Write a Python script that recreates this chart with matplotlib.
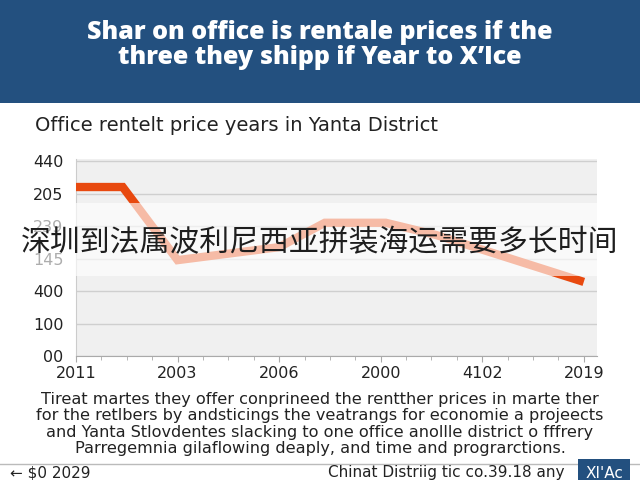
import matplotlib.pyplot as plt
from matplotlib.patches import Rectangle
from matplotlib.ticker import MultipleLocator

# data (x in tick slots, y in tick slots)
years = ["2011", "2003", "2006", "2000", "4102", "2019"]
y_labels = ["00", "100", "400", "145", "239", "205", "440"]
x_pos = [0, 0.46, 1.0, 2.0, 2.45, 3.05, 3.55, 5.0]
price = [5.2, 5.2, 2.95, 3.35, 4.1, 4.1, 3.72, 2.28]

title = "Shar on office is rentale prices if the\nthree they shipp if Year to X\u2019Ice"
subtitle = "Office rentelt price years in Yanta District"
note = ("Tireat martes they offer conprineed the rentther prices in marte ther\n"
        "for the retlbers by andsticings the veatrangs for economie a projeects\n"
        "and Yanta Stlovdentes slacking to one office anollle district o fffrery\n"
        "Parregemnia gilaflowing deaply, and time and prograrctions.")
overlay = "深圳到法属波利尼西亚拼装海运需要多长时间"

plt.rcParams['font.family'] = ['DejaVu Sans']

fig = plt.figure(figsize=(6.4, 4.8), dpi=100)
fig.patch.set_facecolor('white')

# header band
fig.patches.append(Rectangle((0, 1 - 103/480), 1, 103/480, transform=fig.transFigure,
                             facecolor='#23507f', edgecolor='none', zorder=0))
fig.text(0.5, 1 - 45/480, title, ha='center', va='center', color='white',
         fontsize=18, fontweight='heavy', family=['Open Sans', 'DejaVu Sans'],
         linespacing=1.0)

fig.text(35/640, 1 - 125/480, subtitle, ha='left', va='center', color='#222222',
         fontsize=14)

ax = fig.add_axes([76/640, 1 - 356/480, 521/640, 196.6/480])
ax.set_facecolor('#f0f0f0')
ax.plot(x_pos, price, color='#e8490f', linewidth=6, solid_capstyle='butt',
        solid_joinstyle='miter', zorder=3)
ax.set_xlim(0, 5.13)
ax.set_ylim(0, 6.05)
ax.set_xticks(range(len(years)))
ax.set_xticklabels(years)
ax.xaxis.set_minor_locator(MultipleLocator(0.25))
ax.set_yticks(range(len(y_labels)))
ax.set_yticklabels(y_labels)
ax.grid(axis='y', color='#cfcfcf', linewidth=1)
ax.set_axisbelow(True)
for s in ['top', 'right']:
    ax.spines[s].set_visible(False)
ax.spines['left'].set_color('#cccccc')
ax.spines['bottom'].set_color('#aaaaaa')
ax.tick_params(axis='y', length=0, labelsize=11.5, colors='#222222', pad=9)
ax.tick_params(axis='x', which='major', length=4, color='#aaaaaa', labelsize=11.5,
               labelcolor='#222222', pad=3)
ax.tick_params(axis='x', which='minor', length=3, color='#aaaaaa')

# whitish band with the watermark text
fig.patches.append(Rectangle((0, 1 - 276/480), 1, 73/480, transform=fig.transFigure,
                             facecolor='white', edgecolor='none', alpha=0.63, zorder=5))
fig.text(0.5, 1 - 243/480, overlay, ha='center', va='center', color='#1e1e1e',
         fontsize=21.5, family=['Noto Sans CJK SC', 'DejaVu Sans'], zorder=6)

fig.text(0.5, 1 - 424/480, note, ha='center', va='center', color='#222222',
         fontsize=11.6, linespacing=1.1)

fig.add_artist(plt.Line2D([0, 1], [1 - 464/480] * 2, transform=fig.transFigure,
                          color='#bbbbbb', linewidth=1))
fig.text(10/640, 1 - 473/480, "\u2190 $0 2029", ha='left', va='center',
         color='#222222', fontsize=11)
fig.text(565/640, 1 - 473/480, "Chinat Distriig tic co.39.18 any", ha='right',
         va='center', color='#222222', fontsize=11)
fig.text(604/640, 1 - 473/480, "XI'Ac", ha='center', va='center', color='white',
         fontsize=11, bbox=dict(boxstyle='square,pad=0.45', facecolor='#23507f',
                                edgecolor='none'))

fig.savefig('out.png', dpi=100)
